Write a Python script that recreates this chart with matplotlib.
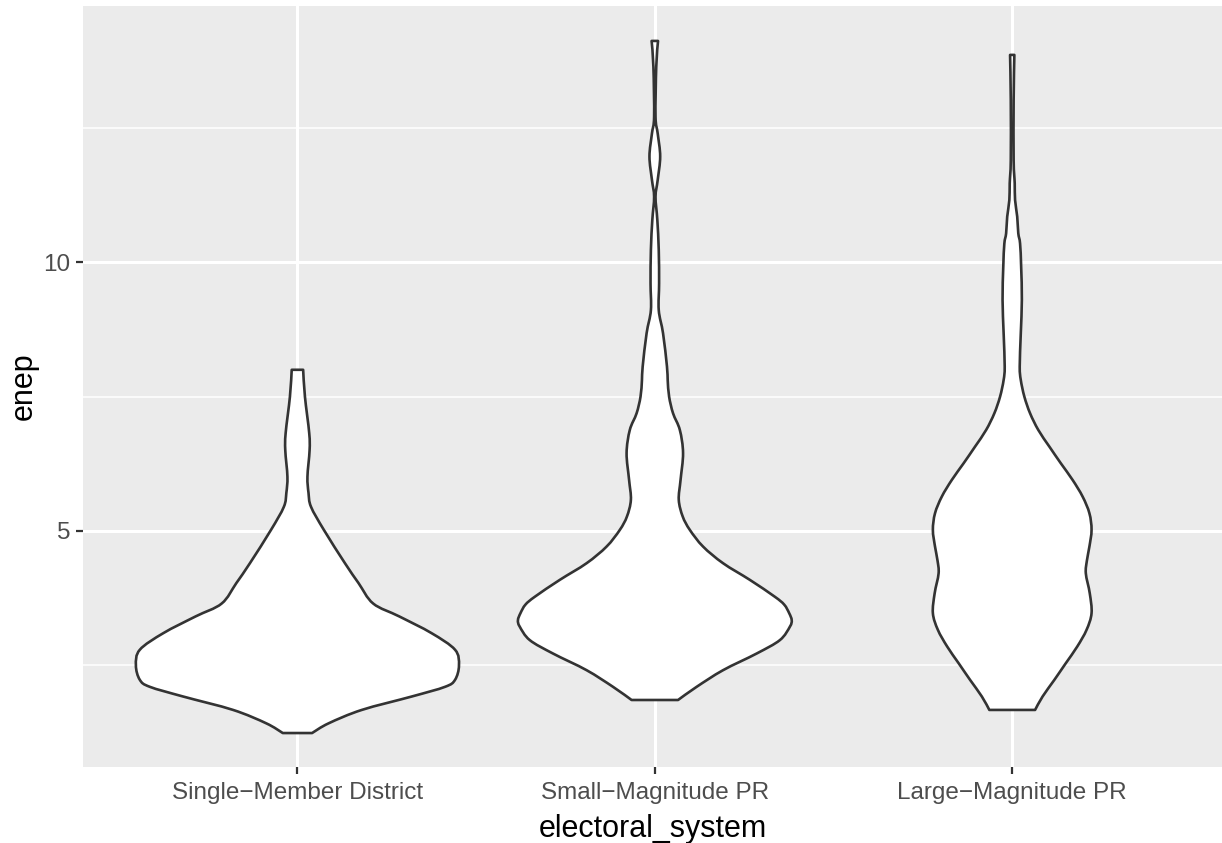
import numpy as np
import matplotlib.pyplot as plt
from matplotlib.path import Path
from matplotlib.patches import PathPatch

# categories on the x axis
systems = ["Single\u2212Member District", "Small\u2212Magnitude PR", "Large\u2212Magnitude PR"]

# violin outlines: enep value and half-width (x-axis units)
smd_enep = [1.24, 1.42, 1.67, 1.92, 2.10, 2.23, 2.50, 2.79, 3.10, 3.41, 3.65,
            4.03, 4.40, 5.02, 5.45, 5.71, 6.01, 6.50, 6.82, 7.50, 8.00]
smd_half = [0.041, 0.087, 0.180, 0.320, 0.413, 0.441, 0.452, 0.441, 0.375, 0.285,
            0.212, 0.171, 0.133, 0.074, 0.038, 0.031, 0.028, 0.034, 0.033,
            0.021, 0.016]

smpr_enep = [1.855, 2.10, 2.41, 2.72, 2.97, 3.22, 3.34, 3.47, 3.63, 3.78, 4.09, 4.40, 4.71,
             5.02, 5.27, 5.58, 5.95, 6.45, 6.88, 7.19, 7.50, 7.81, 8.06, 8.68, 9.11, 9.61,
             10.23, 10.79, 11.22, 11.53, 11.97, 12.40, 12.71, 13.64, 14.12]
smpr_half = [0.065, 0.117, 0.191, 0.285, 0.350, 0.378, 0.383, 0.376, 0.362, 0.335, 0.266,
             0.191, 0.135, 0.098, 0.078, 0.067, 0.072, 0.079, 0.070, 0.051, 0.040, 0.036,
             0.034, 0.023, 0.011, 0.012, 0.011, 0.007, 0.002, 0.008, 0.015, 0.008, 0.002,
             0.004, 0.009]

lmpr_enep = [1.67, 1.92, 2.23, 2.54, 2.85, 3.16, 3.47, 3.84, 4.21, 4.45, 4.71, 5.02, 5.33,
             5.64, 5.95, 6.26, 6.57, 6.88, 7.19, 7.50, 7.81, 8.06, 8.68, 9.30, 9.92, 10.35,
             10.54, 10.85, 11.16, 11.47, 11.90, 13.02, 13.86]
lmpr_half = [0.064, 0.085, 0.118, 0.150, 0.182, 0.208, 0.222, 0.217, 0.206, 0.209, 0.216,
             0.222, 0.216, 0.197, 0.169, 0.136, 0.104, 0.073, 0.050, 0.034, 0.024, 0.021,
             0.024, 0.027, 0.025, 0.022, 0.017, 0.014, 0.008, 0.007, 0.004, 0.004, 0.006]

profiles = [(smd_enep, smd_half), (smpr_enep, smpr_half), (lmpr_enep, lmpr_half)]


def smooth_side(pts):
    # bezier segments through the points (catmull-rom style handles)
    verts, codes = [], []
    n = len(pts)
    for k in range(n - 1):
        p0 = pts[max(k - 1, 0)]
        p1 = pts[k]
        p2 = pts[k + 1]
        p3 = pts[min(k + 2, n - 1)]
        verts += [p1 + (p2 - p0) / 6, p2 - (p3 - p1) / 6, p2]
        codes += [Path.CURVE4] * 3
    return verts, codes


def violin_path(xc, ys, hw):
    ys = np.array(ys)
    hw = np.array(hw)
    left = np.column_stack([xc - hw, ys])
    right = np.column_stack([xc + hw, ys])[::-1]
    verts = [left[0]]
    codes = [Path.MOVETO]
    v, c = smooth_side(left)
    verts += v
    codes += c
    verts.append(right[0])
    codes.append(Path.LINETO)
    v, c = smooth_side(right)
    verts += v
    codes += c
    verts.append(left[0])
    codes.append(Path.CLOSEPOLY)
    return Path(np.array(verts), codes)


fig = plt.figure(figsize=(12.22, 8.43), dpi=100)
ax = fig.add_axes([83 / 1222, 76 / 843, 1 - 83 / 1222, 761 / 843])
ax.set_facecolor("#EBEBEB")

# grid like ggplot theme_gray
for v in [2.5, 7.5, 12.5]:
    ax.axhline(v, color="white", lw=1.1, zorder=0)
for v in [5, 10]:
    ax.axhline(v, color="white", lw=2.2, zorder=0)
for i in range(len(systems)):
    ax.axvline(i + 1, color="white", lw=2.2, zorder=0)

for i, (ys, hw) in enumerate(profiles):
    patch = PathPatch(violin_path(i + 1, ys, hw), facecolor="white",
                      edgecolor="#333333", lw=1.9, zorder=2, joinstyle="round")
    ax.add_patch(patch)

ax.set_xlim(0.4, 3.587)
ax.set_ylim(0.608, 14.77)
ax.set_xticks([1, 2, 3])
ax.set_xticklabels(systems)
ax.set_yticks([5, 10])
ax.set_yticklabels(["5", "10"])

for s in ax.spines.values():
    s.set_visible(False)
ax.tick_params(length=5, width=1.6, color="#333333", labelcolor="#4D4D4D",
               labelsize=17.5)
ax.tick_params(axis="x", pad=6)
ax.tick_params(axis="y", pad=4)
for lab in ax.get_xticklabels() + ax.get_yticklabels():
    lab.set_family(["Liberation Sans", "DejaVu Sans"])

ax.set_xlabel("electoral_system", fontsize=22, family="Liberation Sans", labelpad=7)
ax.set_ylabel("enep", fontsize=22, family="Liberation Sans", labelpad=3)

fig.savefig("out.png", dpi=100)
